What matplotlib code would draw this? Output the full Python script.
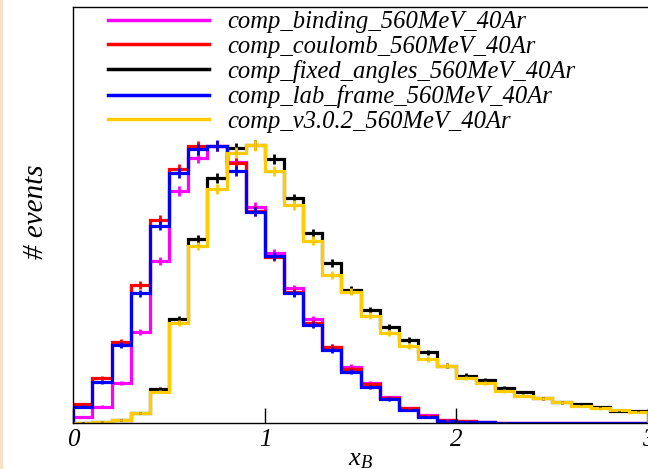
import matplotlib.pyplot as plt
import numpy as np
from matplotlib.patches import Rectangle

plt.rcParams['mathtext.fontset'] = 'custom'
plt.rcParams['mathtext.it'] = 'Liberation Serif:italic'
plt.rcParams['mathtext.rm'] = 'Liberation Serif'

# x_B histograms, bin width 0.1 from 0 to 3 (arbitrary event units)
bin_edges = np.round(np.arange(0, 3.01, 0.1), 2)

binding = [6.3, 16.3, 39.7, 91.3, 162, 231.7, 265.3, 277, 261.3, 216.3,
           170.3, 134.7, 103.7, 76.3, 56.3, 39.7, 25.7, 14.7, 8, 3,
           2.0, 1.0, 0.5, 0.2, 0.2, 0.1, 0.1, 0.1, 0.1, 0.1]
coulomb = [18.7, 44.7, 81.3, 138, 203, 253.7, 277, 277, 260.3, 212,
           166.3, 131, 99.7, 76.3, 54, 38.7, 25, 14.7, 7.5, 2.8,
           1.6, 0.9, 0.4, 0.2, 0.2, 0.1, 0.1, 0.1, 0.1, 0.1]
fixed_angles = [0.5, 1.3, 3, 10.3, 33.7, 103.7, 183.7, 245.3, 274.7, 278,
                263.7, 224.7, 189.7, 160.3, 133, 113, 96.3, 83, 70.7, 57.3,
                47.3, 43, 35.3, 30.7, 24.7, 20.7, 19, 15.7, 12, 12.3]
lab_frame = [16.3, 41.3, 78, 129.7, 197.3, 250.3, 273.7, 277.3, 252, 211.3,
             167, 129.7, 98, 73, 51.3, 35.7, 24, 13, 6.3, 2.3,
             1.3, 0.8, 0.4, 0.2, 0.2, 0.1, 0.1, 0.1, 0.1, 0.1]
v302 = [0.3, 1.3, 3, 10.3, 31.3, 99.7, 177, 233.7, 270.3, 277.5,
        252.3, 218, 182.3, 148, 131.3, 107.3, 90.3, 77, 64, 57.3,
        45.3, 39.7, 32, 27.3, 24.7, 20.7, 17, 14.7, 13, 11.3]

labels = ['comp_binding_560MeV_40Ar', 'comp_coulomb_560MeV_40Ar',
          'comp_fixed_angles_560MeV_40Ar', 'comp_lab_frame_560MeV_40Ar',
          'comp_v3.0.2_560MeV_40Ar']
colors = ['#ff00ff', '#ff0000', '#000000', '#0000ff', '#ffcc00']
series = [binding, coulomb, fixed_angles, lab_frame, v302]

serif = 'Liberation Serif'

fig = plt.figure(figsize=(6.48, 4.69), dpi=100)
ax = fig.add_axes([73.3 / 648, 46 / 469, 1 - 73.3 / 648, (423 - 7) / 469])

centers = (bin_edges[:-1] + bin_edges[1:]) / 2
for vals, col, lab in zip(series, colors, labels):
    vals = np.array(vals)
    ax.stairs(vals, bin_edges, color=col, linewidth=2.3, label=lab)
    # poisson-like error crosses
    err = 0.32 * np.sqrt(vals)
    ax.errorbar(centers, vals, yerr=err, fmt='none', ecolor=col,
                elinewidth=2.0, capsize=0)

ax.set_xlim(0, 3)
ax.set_ylim(0, 416)

ax.set_xticks([0, 1, 2, 3])
ax.set_xticklabels(['0', '1', '2', '3'], fontfamily=serif, fontstyle='italic',
                   fontsize=18)
ax.tick_params(axis='x', direction='in', length=11, width=1, pad=4)
ax.set_yticks([])
ax.spines['right'].set_visible(False)
for s in ['left', 'top', 'bottom']:
    ax.spines[s].set_linewidth(1.0)

ax.set_xlabel('$x_B$', fontsize=19, labelpad=-4)

fig.text(36 / 648, 1 - 212 / 469, '# events', rotation=90, ha='center',
         va='center', fontfamily=serif, fontstyle='italic', fontsize=21)

leg = ax.legend(loc='upper left', bbox_to_anchor=(0.061, 0.99),
                frameon=False, prop={'family': serif, 'style': 'italic', 'size': 17.7},
                handlelength=4.1, handletextpad=0.75, labelspacing=0.09,
                borderaxespad=0.0, borderpad=0.0)
for h in leg.get_lines():
    h.set_linewidth(2.5)

# thin tan strip on left edge as in the screenshot
fig.patches.append(Rectangle((0, 0), 2.0 / 648, 1, transform=fig.transFigure,
                             color='#f3e2c4', zorder=0))

plt.savefig('out.png', dpi=100)
